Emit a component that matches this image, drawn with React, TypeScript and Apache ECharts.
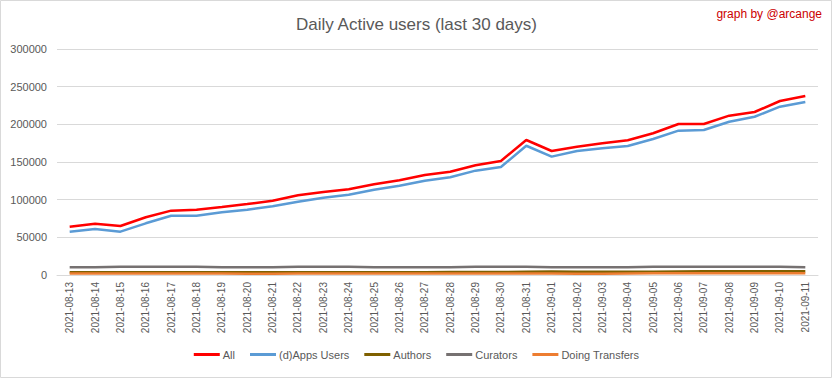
import React, { useEffect, useRef } from "react";
import * as echarts from "echarts";

const categories = [
  "2021-08-13","2021-08-14","2021-08-15","2021-08-16","2021-08-17","2021-08-18","2021-08-19","2021-08-20",
  "2021-08-21","2021-08-22","2021-08-23","2021-08-24","2021-08-25","2021-08-26","2021-08-27","2021-08-28",
  "2021-08-29","2021-08-30","2021-08-31","2021-09-01","2021-09-02","2021-09-03","2021-09-04","2021-09-05",
  "2021-09-06","2021-09-07","2021-09-08","2021-09-09","2021-09-10","2021-09-11",
];

const allUsers = [
  64100, 68100, 65000, 76600, 85400, 86700, 90300, 94200, 98600, 105800,
  110200, 113700, 120400, 125700, 132700, 137100, 145600, 151300, 179200, 164600,
  170300, 174800, 178800, 188100, 200400, 200400, 211500, 216400, 231000, 237600,
];

const appsUsers = [
  57500, 61000, 57500, 68600, 78700, 78700, 83200, 86700, 91200, 97300,
  102600, 106600, 113200, 118500, 125200, 129700, 138500, 143400, 171600, 157100,
  164600, 168100, 171200, 180500, 191600, 192500, 203500, 210100, 223400, 229600,
];

const authors = [
  3600, 3700, 3600, 3600, 3600, 3500, 3500, 3500, 3500, 3600,
  3600, 3700, 3800, 3800, 3800, 3900, 4000, 4000, 4300, 4600,
  4300, 4200, 4200, 4300, 4800, 5000, 5000, 5000, 5000, 5100,
];

const curators = [
  10200, 10200, 11000, 11000, 11000, 11000, 10300, 10300, 10300, 11000,
  11000, 11000, 10300, 10300, 10300, 10300, 11000, 11000, 11000, 10300,
  10300, 10300, 10300, 11000, 11000, 11000, 11000, 11000, 11000, 10200,
];

const doingTransfers = [
  2000, 2000, 2000, 2000, 2000, 2000, 2000, 1500, 1700, 2000,
  2000, 2000, 2000, 2000, 2000, 2000, 2000, 2000, 2000, 2000,
  1700, 1700, 2000, 2200, 2200, 2200, 2200, 2200, 2200, 2200,
];

const yTicks = { min: 0, max: 300000, interval: 50000 };

const FONT = "Liberation Sans";
const GREY = "#595959";

export default function App() {
  const ref = useRef<HTMLDivElement>(null);
  useEffect(() => {
    document.body.style.margin = "0";
    if (!ref.current) return;
    const chart = echarts.init(ref.current, null, { renderer: "svg" });
    const mk = (name: string, data: number[], color: string) => ({
      name,
      type: "line",
      data,
      symbol: "none",
      lineStyle: { color, width: 2.5 },
      itemStyle: { color },
    });
    chart.setOption({
      animation: false,
      backgroundColor: "#ffffff",
      textStyle: { fontFamily: FONT },
      title: {
        text: "Daily Active users (last 30 days)",
        left: "center",
        top: 11,
        textStyle: { fontFamily: FONT, fontSize: 17, fontWeight: "normal", color: GREY },
      },
      graphic: [
        {
          type: "rect",
          shape: { x: 0.5, y: 0.5, width: 831, height: 377 },
          style: { fill: "none", stroke: "#d9d9d9", lineWidth: 1 },
          silent: true,
        },
        {
          type: "text",
          right: 11,
          top: 8,
          style: { text: "graph by @arcange", fill: "#cc0000", font: `12px "${FONT}"` },
        },
      ],
      legend: {
        bottom: 14,
        left: "center",
        itemWidth: 26,
        itemHeight: 3,
        itemGap: 15,
        icon: "rect",
        textStyle: { fontFamily: FONT, fontSize: 11, color: GREY, padding: [0, 0, 0, -2] },
        data: ["All", "(d)Apps Users", "Authors", "Curators", "Doing Transfers"],
      },
      grid: { left: 57, right: 15, top: 49, bottom: 104, containLabel: false },
      xAxis: {
        type: "category",
        data: categories,
        boundaryGap: true,
        axisLine: { lineStyle: { color: "#d9d9d9" } },
        axisTick: { show: false },
        axisLabel: { rotate: 90, fontFamily: FONT, fontSize: 10, color: GREY, margin: 7, interval: 0 },
      },
      yAxis: {
        type: "value",
        min: yTicks.min,
        max: yTicks.max,
        interval: yTicks.interval,
        axisLine: { show: false },
        axisTick: { show: false },
        axisLabel: {
          fontFamily: FONT,
          fontSize: 11,
          color: GREY,
          margin: 10,
          formatter: (v: number) => String(v),
        },
        splitLine: { lineStyle: { color: "#d9d9d9", width: 1 } },
      },
      series: [
        mk("All", allUsers, "#ff0000"),
        mk("(d)Apps Users", appsUsers, "#5b9bd5"),
        mk("Authors", authors, "#7f6000"),
        mk("Curators", curators, "#767171"),
        mk("Doing Transfers", doingTransfers, "#ed7d31"),
      ],
    });
    return () => chart.dispose();
  }, []);
  return <div ref={ref} style={{ width: 833, height: 379 }} />;
}
